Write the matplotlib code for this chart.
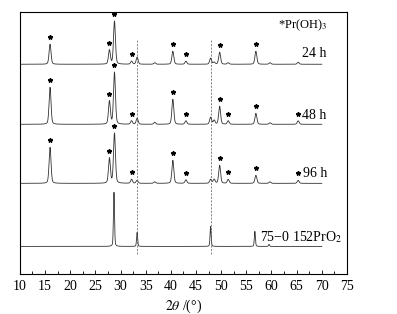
import numpy as np
import matplotlib
matplotlib.use('Agg')
import matplotlib.pyplot as plt

plt.rcParams['font.family'] = ['Liberation Serif', 'DejaVu Serif']
plt.rcParams['mathtext.fontset'] = 'stix'

# Pozice píků (2theta) a jejich výšky pro jednotlivé vzorky
pik_oh = [16.0, 27.8, 28.8, 32.2, 33.3, 36.8, 40.4, 43.0, 47.9, 48.6, 49.7, 51.4, 56.9, 59.7, 65.3]
vysky_24h = [20, 14, 43, 3, 7, 1.5, 13, 3, 6, 2, 12, 1.5, 13, 1.5, 2]
vysky_48h = [37, 23, 52, 3.5, 6, 2, 25, 3.5, 7, 4, 18, 3.5, 11, 1.5, 3.5]
vysky_96h = [36, 25, 50, 4, 3, 1.5, 23, 3.5, 4, 4, 18, 4, 8, 1.5, 3]

pik_pro2 = [28.7, 33.3, 47.9, 56.7, 59.5]
vysky_pro2 = [54, 14, 20, 15, 2]

# Hvězdičky (Pr(OH)3) u jednotlivých vzorků
hvezdy_24h = [16.0, 27.8, 28.8, 32.2, 40.4, 43.0, 49.7, 56.9]
hvezdy_48h = [16.0, 27.8, 28.8, 32.2, 40.4, 43.0, 49.7, 51.4, 56.9, 65.3]
hvezdy_96h = [16.0, 27.8, 28.8, 32.2, 40.4, 43.0, 49.7, 51.4, 56.9, 65.3]

posuny = [210, 150, 91, 28]  # základní linie jednotlivých křivek
popisky = ['24 h', '48 h', '96 h', '75\u22120 152PrO$_2$']
carkovane = [33.3, 47.9]

x = np.arange(10, 70.01, 0.02)


def profil(pozice, vysky, sirka):
    y = np.zeros_like(x)
    for p, h in zip(pozice, vysky):
        g = np.exp(-0.5 * ((x - p) / (sirka / 2.355)) ** 2)
        l = 1 / (1 + ((x - p) / (sirka / 2)) ** 2)
        y += h * (0.7 * g + 0.3 * l)
    return y


krivky = [
    profil(pik_oh, vysky_24h, 0.45) + posuny[0],
    profil(pik_oh, vysky_48h, 0.45) + posuny[1],
    profil(pik_oh, vysky_96h, 0.45) + posuny[2],
    profil(pik_pro2, vysky_pro2, 0.25) + posuny[3],
]

fig = plt.figure(figsize=(3.97, 3.14), dpi=100)
ax = fig.add_axes([0.050, 0.126, 0.824, 0.837])

for y in krivky:
    ax.plot(x, y, color='#333333', lw=0.6)

ax.vlines(carkovane, 20, 234, colors='#555555', lw=0.5, linestyles=(0, (3, 2)))

for hv, y in zip([hvezdy_24h, hvezdy_48h, hvezdy_96h], krivky[:3]):
    for p in hv:
        okno = (x > p - 0.3) & (x < p + 0.3)
        ax.plot(p, y[okno].max() + 7, marker='*', color='black', markersize=3.2, lw=0)

ax.text(66.1, 220.5, popisky[0], fontsize=10, va='center')
ax.text(66.1, 158.5, popisky[1], fontsize=10, va='center')
ax.text(66.3, 101, popisky[2], fontsize=10, va='center')
ax.text(57.8, 37.5, popisky[3], fontsize=10, va='center')
ax.text(61.2, 249, '*Pr(OH)$_3$', fontsize=9, va='center')

ax.set_xlim(10, 75)
ax.set_ylim(0, 262.6)
ax.set_xticks(range(10, 76, 5))
ax.set_xticks(np.arange(12.5, 75, 5), minor=True)
ax.tick_params(axis='x', which='major', direction='in', length=3, width=0.6,
               labelsize=10, pad=4)
ax.tick_params(axis='x', which='minor', direction='in', length=2, width=0.6)
ax.set_yticks([])
for s in ax.spines.values():
    s.set_linewidth(0.8)

ax.set_xlabel('$\\mathit{2\\theta}$ /(\u00b0)', fontsize=10, labelpad=3)

fig.savefig('out.png', dpi=100)
